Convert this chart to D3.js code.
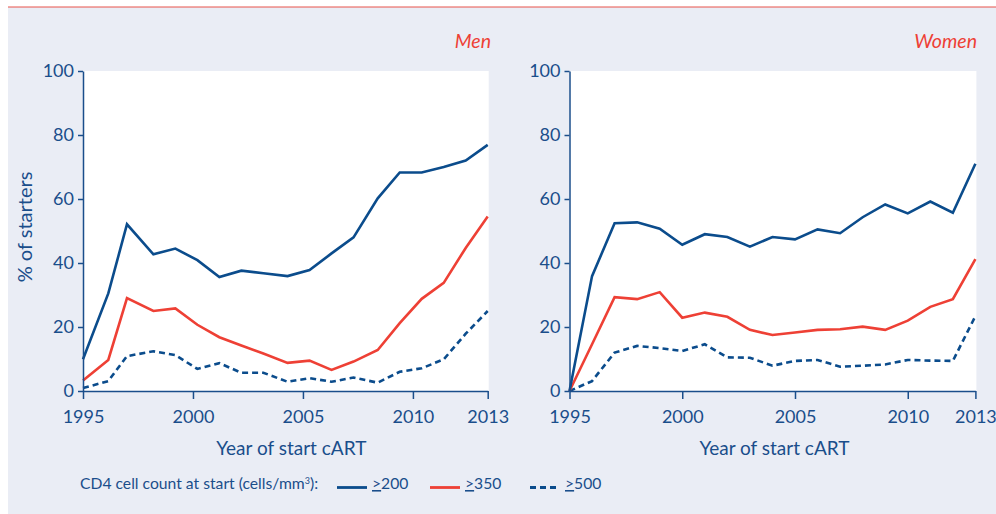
<!doctype html>
<html>
  <head>
    <script src="https://cdnjs.cloudflare.com/ajax/libs/d3/7.8.5/d3.min.js"></script>
    <style>
      body { margin: 0; background: #fff; }
      svg { display: block; font-family: Lato, "Noto Sans", sans-serif; }
    </style>
  </head>
  <body>
    <svg id="chart" width="996" height="514"></svg>
    <script>
      // values (% of starters)
      var menYears     = [1995, 1996.15, 1997, 1998.2, 1999.2, 2000.2, 2001.2, 2002.2, 2003.2, 2004.3,
                          2005.3, 2006.3, 2007.3, 2008.4, 2009.4, 2010.4, 2011.4, 2012.4, 2013.4];
      var men200       = [9.9, 30.5, 52.1, 42.7, 44.5, 40.9, 35.6, 37.6, 36.8, 35.9,
                          37.8, 43.0, 48.0, 60.2, 68.3, 68.3, 70.0, 72.0, 76.9];
      var men350       = [3.3, 9.7, 29.0, 25.0, 25.8, 20.7, 16.8, 14.2, 11.7, 8.8,
                          9.5, 6.6, 9.2, 12.8, 21.2, 28.8, 33.8, 44.7, 54.5];
      var men500       = [0.9, 3.1, 10.9, 12.4, 11.2, 6.9, 8.7, 5.7, 5.7, 2.9,
                          4.0, 2.9, 4.2, 2.6, 6.0, 7.1, 9.9, 17.9, 25.0];

      var womenYears   = d3.range(1995, 2014);
      var women200     = [0, 35.9, 52.4, 52.7, 50.7, 45.7, 49.0, 48.1, 45.1, 48.1,
                          47.4, 50.5, 49.3, 54.3, 58.3, 55.5, 59.2, 55.7, 71.0];
      var women350     = [0, 14.6, 29.3, 28.7, 30.9, 22.9, 24.5, 23.2, 19.1, 17.5,
                          18.3, 19.1, 19.3, 20.1, 19.1, 22.0, 26.3, 28.7, 41.2];
      var women500     = [0, 3.1, 12.0, 14.1, 13.4, 12.5, 14.6, 10.5, 10.4, 7.9,
                          9.4, 9.7, 7.6, 7.9, 8.3, 9.7, 9.5, 9.4, 23.4];

      var yTicks       = [0, 20, 40, 60, 80, 100];
      var menXTicks    = [1995, 2000, 2005, 2010, 2013.4];
      var womenXTicks  = [1995, 2000, 2005, 2010, 2013];
      var legendLabels = ["200", "350", "500"];

      var blue = "#0b4c8c", red = "#ee4035", ink = "#1a4e8b", bg = "#eaedf5";

      var svg = d3.select("#chart");

      svg.append("rect").attr("x", 8).attr("y", 7).attr("width", 988).attr("height", 507).attr("fill", bg);
      svg.append("line").attr("x1", 8).attr("x2", 996).attr("y1", 7).attr("y2", 7)
        .attr("stroke", "#e8534b").attr("stroke-width", 1);

      var y = d3.scaleLinear().domain([0, 100]).range([391, 71]);

      function panel(title, years, s200, s350, s500, xDomain, xRange, xTicks, titleX, labelDx) {
        var x = d3.scaleLinear().domain(xDomain).range(xRange);
        var g = svg.append("g");

        g.append("rect").attr("x", xRange[0]).attr("y", y(100))
          .attr("width", xRange[1] - xRange[0] + 1).attr("height", y(0) - y(100)).attr("fill", "#fff");

        var line = d3.line().x(function (d) { return x(d[0]); }).y(function (d) { return y(d[1]); });
        var series = [
          { vals: s500, color: blue, dash: "6,4" },
          { vals: s350, color: red, dash: null },
          { vals: s200, color: blue, dash: null }
        ];
        series.forEach(function (s) {
          g.append("path").datum(d3.zip(years, s.vals)).attr("d", line)
            .attr("fill", "none").attr("stroke", s.color).attr("stroke-width", 2.6)
            .attr("stroke-linejoin", "miter").attr("stroke-dasharray", s.dash);
        });

        var ya = g.append("g").attr("transform", "translate(" + xRange[0] + ",0)")
          .call(d3.axisLeft(y).tickValues(yTicks).tickSize(5).tickPadding(4).tickSizeOuter(0));
        var xa = g.append("g").attr("transform", "translate(0," + y(0) + ")")
          .call(d3.axisBottom(x).tickValues(xTicks).tickSize(8).tickPadding(11).tickSizeOuter(0)
            .tickFormat(function (d) { return Math.floor(d); }));
        [ya, xa].forEach(function (a) {
          a.select(".domain").attr("stroke", ink).attr("stroke-width", 1.5);
          a.selectAll(".tick line").attr("stroke", ink).attr("stroke-width", 1.5);
          a.selectAll(".tick text").attr("fill", ink).style("font-size", "18px").style("font-family", "Lato");
        });

        g.append("text").attr("x", (xRange[0] + xRange[1]) / 2 + labelDx).attr("y", 455)
          .attr("text-anchor", "middle").attr("fill", ink).style("font-size", "19px")
          .text("Year of start cART");

        g.append("text").attr("x", titleX).attr("y", 48).attr("text-anchor", "end")
          .attr("fill", red).style("font-size", "19.5px").style("font-style", "italic")
          .text(title);
      }

      panel("Men", menYears, men200, men350, men500, [1995, 2013.4], [83, 487.7], menXTicks, 491, 6);
      panel("Women", womenYears, women200, women350, women500, [1995, 2013], [569.5, 975.4], womenXTicks, 977, 2);

      svg.append("text").attr("transform", "translate(32,227) rotate(-90)")
        .attr("text-anchor", "middle").attr("fill", ink).style("font-size", "20px")
        .text("% of starters");

      // legend
      var lg = svg.append("g");
      var head = lg.append("text").attr("x", 80).attr("y", 489).attr("fill", ink).style("font-size", "15.7px");
      head.append("tspan").text("CD4 cell count at start (cells/mm");
      head.append("tspan").attr("dy", -5).style("font-size", "9px").text("3");
      head.append("tspan").attr("dy", 5).text("):");

      var items = [
        { label: legendLabels[0], color: blue, dash: null, x: 337 },
        { label: legendLabels[1], color: red, dash: null, x: 430 },
        { label: legendLabels[2], color: blue, dash: "6,4", x: 530 }
      ];
      items.forEach(function (it) {
        lg.append("line").attr("x1", it.x).attr("x2", it.x + 30).attr("y1", 487.5).attr("y2", 487.5)
          .attr("stroke", it.color).attr("stroke-width", 2.8).attr("stroke-dasharray", it.dash);
        var t = lg.append("text").attr("x", it.x + 35).attr("y", 489).attr("fill", ink).style("font-size", "15.7px");
        t.append("tspan").attr("text-decoration", "underline").text(">");
        t.append("tspan").text(it.label);
      });
    </script>
  </body>
</html>
